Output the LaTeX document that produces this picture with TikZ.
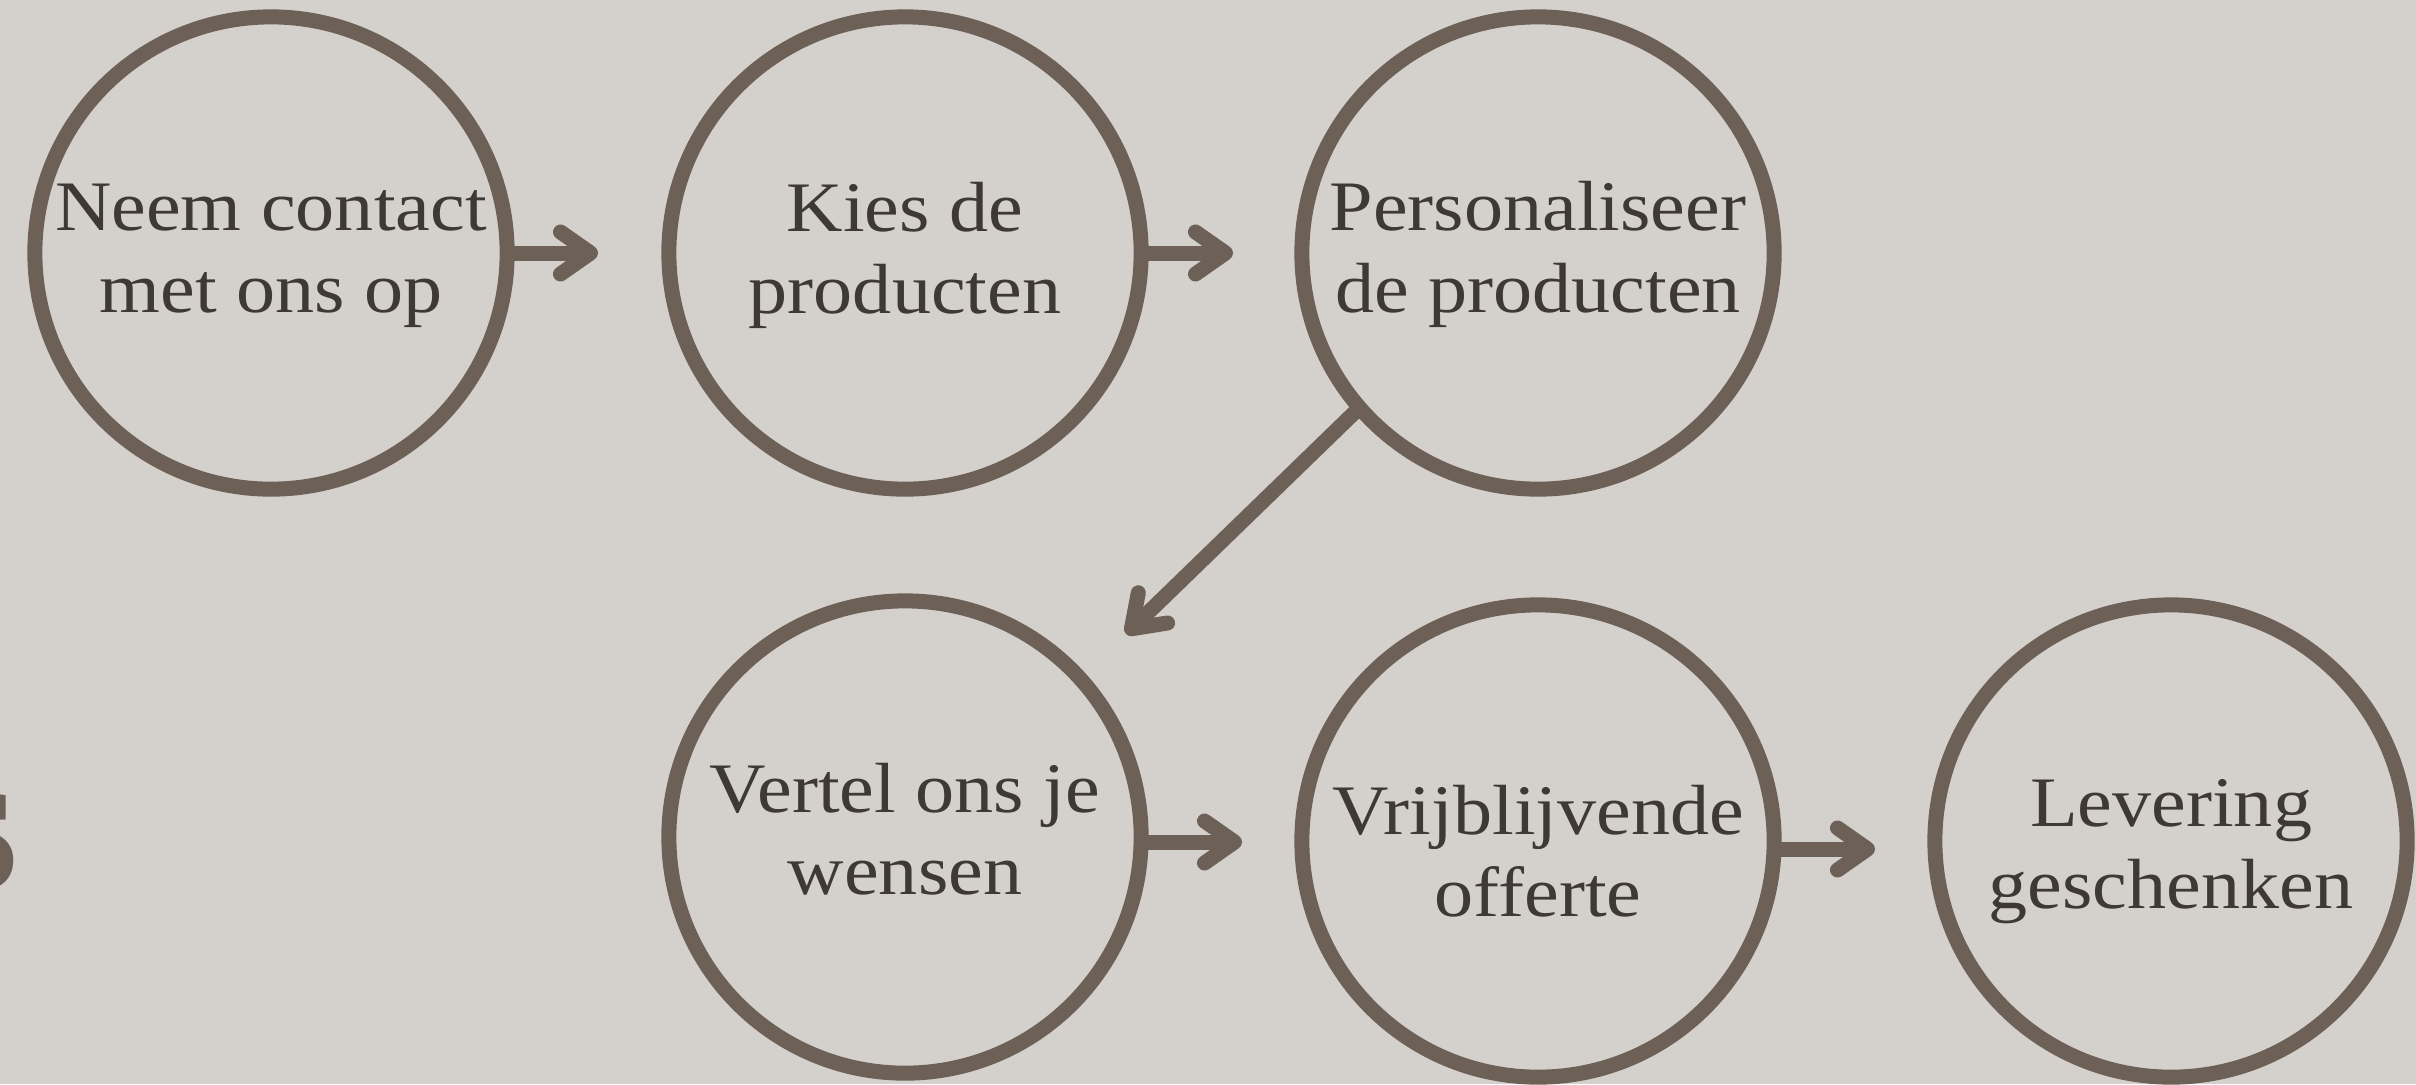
\documentclass[tikz,border=0pt]{standalone}
\usepackage{fontspec}
\setmainfont[FakeStretch=1.1]{Liberation Serif}
\usetikzlibrary{arrows.meta}
\definecolor{bg}{HTML}{D4D1CC}
\definecolor{ring}{HTML}{6D6057}
\definecolor{ink}{HTML}{3F3936}
\begin{document}
\begin{tikzpicture}[x=0.01cm, y=-0.01cm,
  circ/.style={circle, draw=ring, line width=0.15cm, minimum size=4.72cm, inner sep=0pt},
  lbl/.style={anchor=base, align=center, text=ink, inner sep=0pt, font=\fontsize{20.2pt}{23.3pt}\selectfont},
  conn/.style={draw=ring, line width=0.15cm, line cap=round, -{Straight Barb[length=0.3cm, width=0.42cm, round]}}]
\fill[bg] (0,0) rectangle (2416,1084);
\useasboundingbox (0,0) rectangle (2416,1084);
% partial heading letter at the left edge
\node[anchor=base east, inner sep=0pt, text=ring, font=\bfseries\fontsize{59pt}{60pt}\selectfont] (hs) at (20,890) {s};
% circles
\node[circ] (c1) at (271,253) {};
\node[circ] (c2) at (905,253) {};
\node[circ] (c3) at (1538,253) {};
\node[circ] (c4) at (905,837) {};
\node[circ] (c5) at (1538,841) {};
\node[circ] (c6) at (2171,841) {};
% labels (anchored at the baseline of the last line)
\node[lbl] (l1) at (271,312) {Neem contact\\met ons op};
\node[lbl] (l2) at (905,313) {Kies de\\producten};
\node[lbl] (l3) at (1538,312) {Personaliseer\\de producten};
\node[lbl] (l4) at (905,894) {Vertel ons je\\wensen};
\node[lbl] (l5) at (1538,916) {Vrijblijvende\\offerte};
\node[lbl] (l6) at (2171,908) {Levering\\geschenken};
% arrow tips
\coordinate (t1) at (598,253);
\coordinate (t2) at (1233,253);
\coordinate (t3) at (1126,634);
\coordinate (t4) at (1242,842);
\coordinate (t5) at (1875,849);
% connectors
\draw[conn] (c1.east) -- (t1);
\draw[conn] (c2.east) -- (t2);
\draw[conn] (c3.221) -- (t3);
\draw[conn] (c4.east |- t4) -- (t4);
\draw[conn] (c5.east |- t5) -- (t5);
\end{tikzpicture}
\end{document}
